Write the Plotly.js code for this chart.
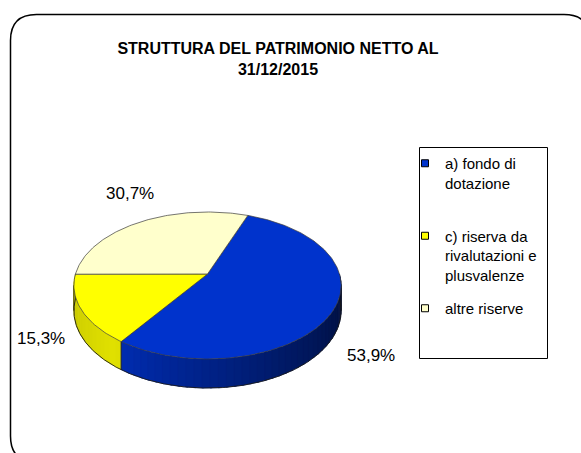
<!DOCTYPE html>
<html><head><meta charset="utf-8">
<script src="https://cdn.plot.ly/plotly-3.0.1.min.js"></script>
<style>html,body{margin:0;padding:0;background:#fff;} #chart{width:581px;height:453px;}</style>
</head><body><div id="chart"></div>
<script>
// ---- data ----
const categories = ['a) fondo di dotazione', 'c) riserva da rivalutazioni e plusvalenze', 'altre riserve'];
const legendLabels = ['a) fondo di<br>dotazione<br> ', 'c) riserva da<br>rivalutazioni e<br>plusvalenze', 'altre riserve'];
const values = [53.9, 15.3, 30.7];
const colors = ['#0033cc', '#ffff00', '#ffffcc'];
const chartTitle = 'STRUTTURA DEL PATRIMONIO NETTO AL<br>31/12/2015';

// ---- layout constants ----
const FONT = 'Liberation Sans, Arial, sans-serif';
const W = 581, H = 453;
const G = {cx: 207.5, cy: 274, R: 132, Rs: 71.7, k: 0.1565, T: 24.5, start: 69.5};
const LABEL_POS = [[371, 355], [41, 338], [130, 193]];

const total = values.reduce((a, b) => a + b, 0);
const bounds = [];
let acc = 0;
values.forEach(v => {
  const a0 = G.start - acc / total * 360;
  acc += v;
  const a1 = G.start - acc / total * 360;
  bounds.push([a0, a1]);
});

function proj(deg, r, h) {
  const t = deg * Math.PI / 180;
  const u = r * Math.cos(t), v = r * Math.sin(t);
  const s = 1 / (1 + G.k * v);
  return [G.cx + s * u * G.R, G.cy - s * v * G.Rs + h * s];
}
function arc(a0, a1, h, step) {
  const pts = [];
  const n = Math.max(1, Math.ceil(Math.abs(a1 - a0) / step));
  for (let i = 0; i <= n; i++) pts.push(proj(a0 + (a1 - a0) * i / n, 1, h));
  return pts;
}
function sliceAt(deg) {
  const d = (((G.start - deg) % 360) + 360) % 360;
  let c = 0;
  for (let i = 0; i < values.length; i++) {
    c += values[i] / total * 360;
    if (d < c) return i;
  }
  return values.length - 1;
}
function hexToRgb(h) {
  const n = parseInt(h.slice(1), 16);
  return [(n >> 16) & 255, (n >> 8) & 255, n & 255];
}
const SHADE = [[180, 0.76], [232, 0.88], [260, 0.72], [300, 0.5], [360, 0.26]];
function shade(deg) {
  for (let i = 0; i < SHADE.length - 1; i++) {
    const [a, fa] = SHADE[i], [b, fb] = SHADE[i + 1];
    if (deg >= a && deg <= b) return fa + (fb - fa) * (deg - a) / (b - a);
  }
  return 0.5;
}
function shadeColor(hex, f) {
  const c = hexToRgb(hex).map(x => Math.round(x * f));
  return 'rgb(' + c.join(',') + ')';
}
function xyTrace(pts, extra) {
  return Object.assign({
    type: 'scatter', mode: 'lines',
    x: pts.map(p => p[0]), y: pts.map(p => p[1]),
    hoverinfo: 'skip', showlegend: false
  }, extra);
}

const traces = [];

// side walls (front half)
let breaks = [180, 360];
bounds.forEach(b => b.forEach(a => {
  const m = ((a % 360) + 360) % 360;
  if (m > 180 && m < 360) breaks.push(m);
}));
breaks = Array.from(new Set(breaks)).sort((a, b) => a - b);
for (let i = 0; i < breaks.length - 1; i++) {
  const p = breaks[i], q = breaks[i + 1];
  const n = Math.max(1, Math.ceil((q - p) / 3));
  for (let j = 0; j < n; j++) {
    const ta = p + (q - p) * j / n;
    const tb = Math.min(q, p + (q - p) * (j + 1) / n + 0.8);
    const mid = p + (q - p) * (j + 0.5) / n;
    const idx = sliceAt(mid);
    const col = shadeColor(colors[idx], shade(mid));
    const pts = arc(ta, tb, 0, 0.5).concat(arc(tb, ta, G.T, 0.5));
    pts.push(pts[0]);
    traces.push(xyTrace(pts, {fill: 'toself', fillcolor: col, line: {color: col, width: 0.5}}));
  }
}
// side outlines
traces.push(xyTrace(arc(180, 360, G.T, 0.5), {line: {color: '#1a1a1a', width: 0.9}}));
const sil = Math.asin(G.k) * 180 / Math.PI;
[180 + sil, 360 - sil].concat(breaks.slice(1, -1)).forEach(m => {
  traces.push(xyTrace([proj(m, 1, 0), proj(m, 1, G.T)], {line: {color: '#1a1a1a', width: 0.8}}));
});

// top faces
bounds.forEach((b, i) => {
  const apex = [G.cx, G.cy];
  const pts = [apex].concat(arc(b[0], b[1], 0, 1));
  pts.push(apex);
  traces.push(xyTrace(pts, {fill: 'toself', fillcolor: colors[i], line: {color: '#3a3a3a', width: 0.7}}));
});

// legend entries
colors.forEach((c, i) => {
  traces.push({
    type: 'scatter', mode: 'markers', x: [null], y: [null],
    name: legendLabels[i], legendgroup: 'g' + i, hoverinfo: 'skip',
    marker: {symbol: 'square', size: 7, color: c, line: {color: '#000', width: 1}}
  });
});

const annotations = values.map((v, i) => ({
  x: LABEL_POS[i][0], y: LABEL_POS[i][1], xref: 'x', yref: 'y',
  text: v.toFixed(1).replace('.', ',') + '%', showarrow: false,
  xanchor: 'center', yanchor: 'middle',
  font: {family: FONT, size: 17, color: '#000'}
}));

const shapes = [
  {type: 'path', xref: 'x', yref: 'y', layer: 'above',
   path: 'M10.5,40.5 Q10.5,14.5 36.5,14.5 L564,14.5 Q590,14.5 590,40.5 L590,436 Q590,462 564,462 L36.5,462 Q10.5,462 10.5,436 Z',
   line: {color: '#000', width: 1.5}},
  {type: 'rect', xref: 'x', yref: 'y', layer: 'above', x0: 419.5, y0: 147.5, x1: 547.5, y1: 358.5,
   line: {color: '#000', width: 1}}
];

const layout = {
  width: W, height: H,
  margin: {l: 0, r: 0, t: 0, b: 0, pad: 0},
  paper_bgcolor: '#fff', plot_bgcolor: '#fff',
  title: {text: chartTitle, x: 278 / W, xanchor: 'center', xref: 'paper',
          y: 1 - 54 / H, yanchor: 'top', yref: 'container',
          font: {family: FONT, size: 16, color: '#000', weight: 'bold'}},
  xaxis: {range: [0, W], visible: false, fixedrange: true},
  yaxis: {range: [H, 0], visible: false, fixedrange: true},
  showlegend: true,
  legend: {x: 405 / W, y: 1 - 147 / H, xanchor: 'left', yanchor: 'top',
           font: {family: FONT, size: 15, color: '#000'},
           bgcolor: 'rgba(0,0,0,0)', borderwidth: 0,
           traceorder: 'grouped', tracegroupgap: 11, valign: 'top'},
  annotations: annotations,
  shapes: shapes
};

Plotly.newPlot('chart', traces, layout, {staticPlot: true, displayModeBar: false});
</script>
</body></html>
